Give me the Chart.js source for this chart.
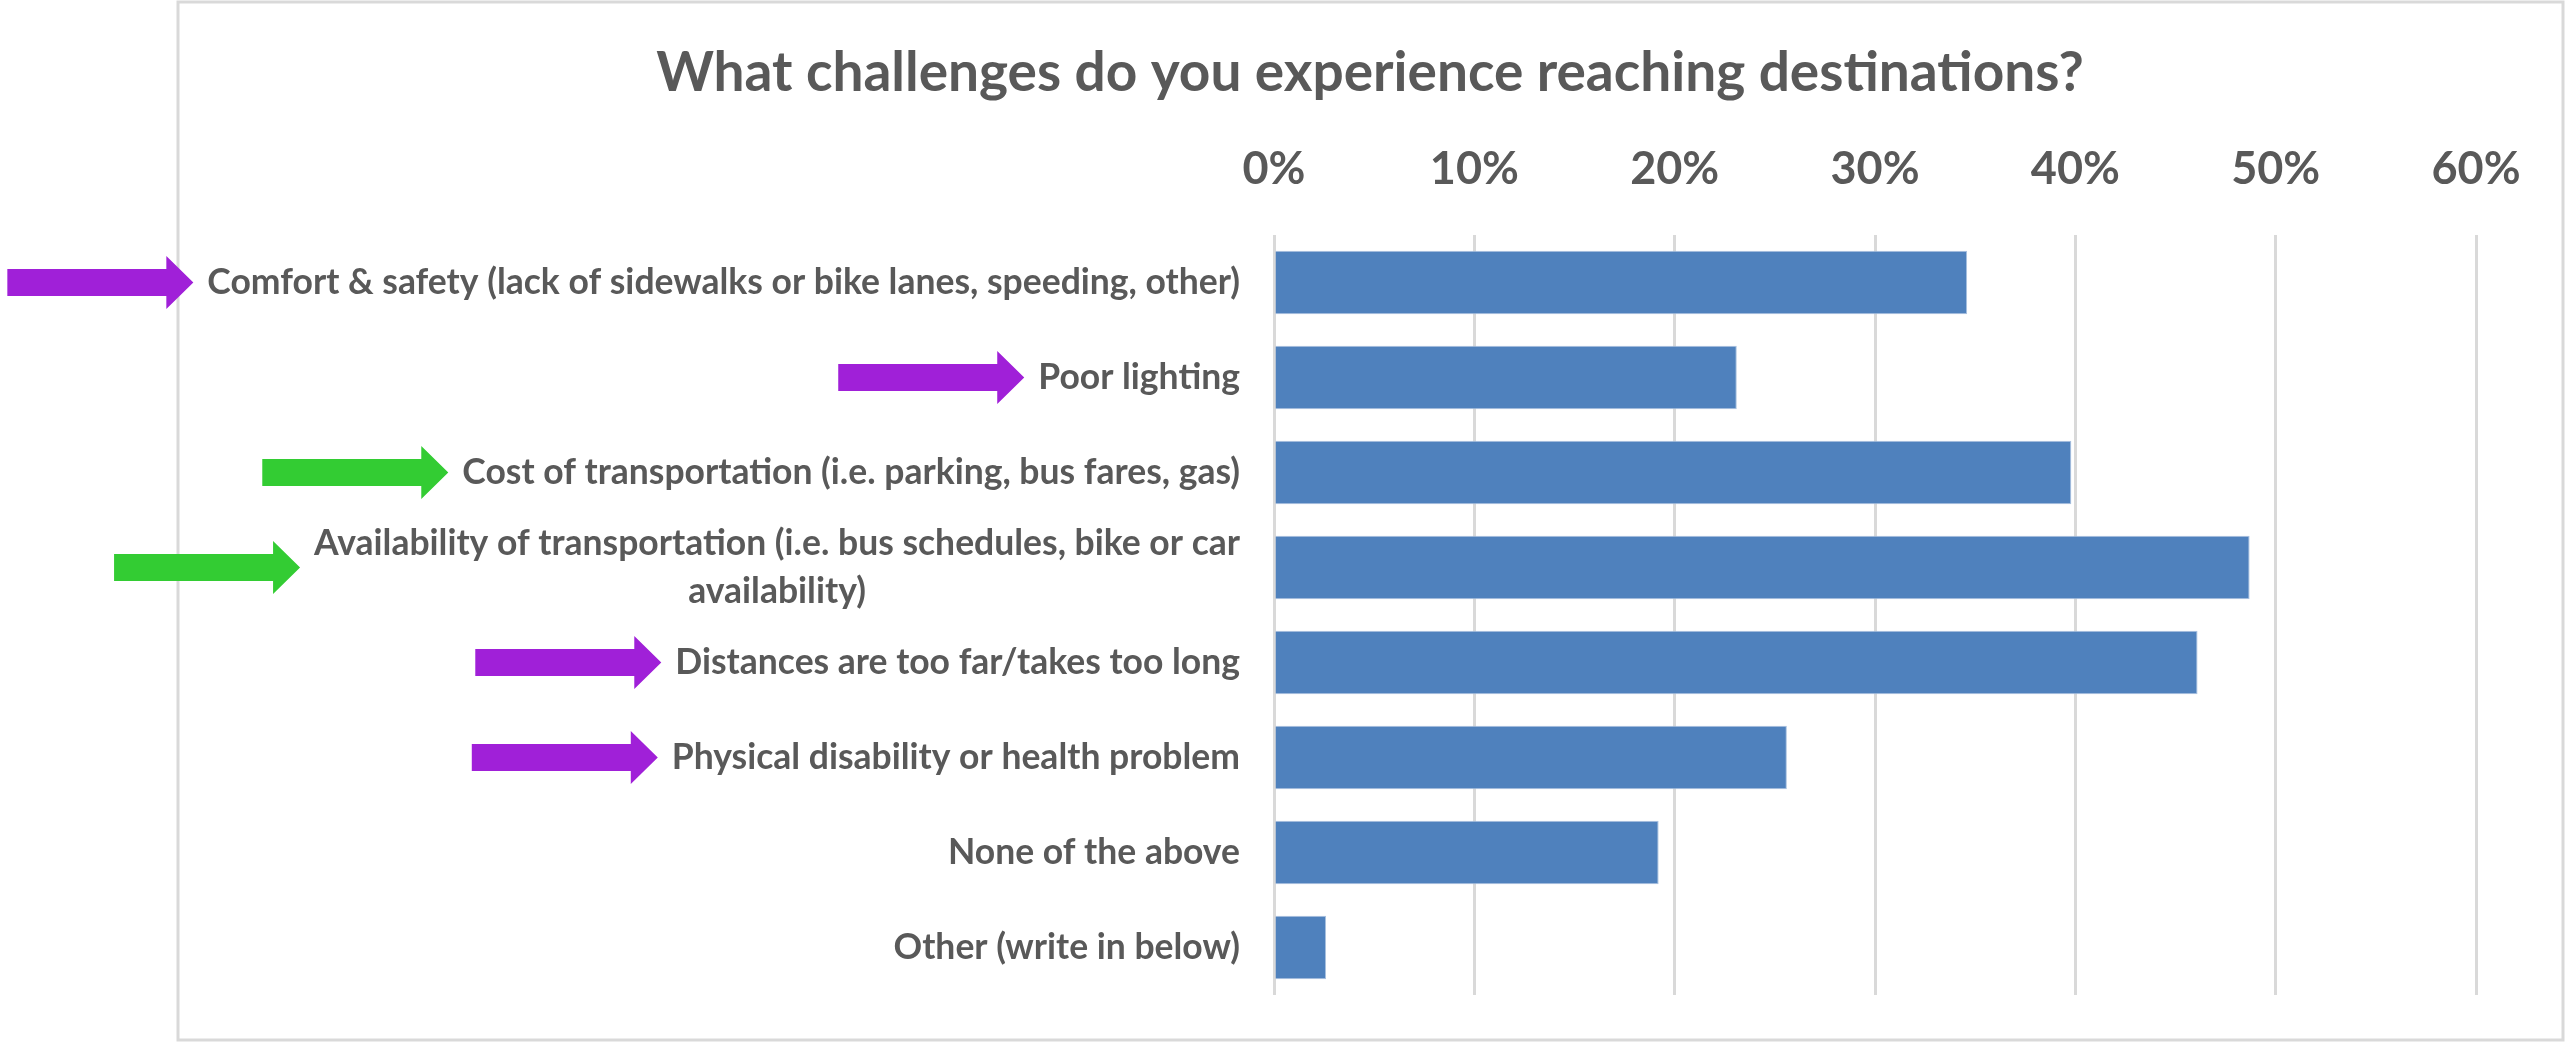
<!DOCTYPE html>
<html>
<head>
<meta charset="utf-8">
<title>What challenges do you experience reaching destinations?</title>
<script src="https://cdn.jsdelivr.net/npm/chart.js@4.4.1/dist/chart.umd.min.js"></script>
<style>
  html, body { margin: 0; padding: 0; background: #fff; }
  #wrap { position: relative; width: 2566px; height: 1046px; }
</style>
</head>
<body>
<div id="wrap"><canvas id="chart"></canvas></div>
<script>
/* Survey: challenges reaching destinations (horizontal bars, share of respondents) */
const categories = [
  'Comfort & safety (lack of sidewalks or bike lanes, speeding, other)',
  'Poor lighting',
  'Cost of transportation (i.e. parking, bus fares, gas)',
  ['Availability of transportation (i.e. bus schedules, bike or car', 'availability)'],
  'Distances are too far/takes too long',
  'Physical disability or health problem',
  'None of the above',
  'Other (write in below)'
];
const shares = [0.346, 0.231, 0.398, 0.487, 0.461, 0.256, 0.192, 0.026];
const tickLabels = ['0%', '10%', '20%', '30%', '40%', '50%', '60%'];

// highlight arrows next to some rows
const PURPLE = '#a020d8', GREEN = '#33cc33';
const arrowColors = [PURPLE, PURPLE, GREEN, GREEN, PURPLE, PURPLE, null, null];

const FONT = 'Lato, "Open Sans", sans-serif';
const INK = '#595959';

function drawArrow(c, tipX, cy, color) {
  const len = 186, head = 27, shaft = 27, headH = 53;
  c.fillStyle = color;
  c.beginPath();
  c.moveTo(tipX - len, cy - shaft / 2);
  c.lineTo(tipX - head, cy - shaft / 2);
  c.lineTo(tipX - head, cy - headH / 2);
  c.lineTo(tipX, cy);
  c.lineTo(tipX - head, cy + headH / 2);
  c.lineTo(tipX - head, cy + shaft / 2);
  c.lineTo(tipX - len, cy + shaft / 2);
  c.closePath();
  c.fill();
}

// chart frame (light grey box, arrows stick out of it on the left)
const frame = {
  id: 'frame',
  beforeDraw(chart) {
    const c = chart.ctx;
    c.save();
    c.strokeStyle = '#d9d9d9';
    c.lineWidth = 3;
    c.strokeRect(178, 2, 2385, 1038);
    c.restore();
  }
};

// category labels: block right-aligned to the axis, lines centred inside the block
const rowLabels = {
  id: 'rowLabels',
  afterDraw(chart) {
    const c = chart.ctx, ys = chart.scales.y;
    const right = chart.chartArea.left - 34;
    c.save();
    c.font = 'bold 35.5px ' + FONT;
    c.textAlign = 'center';
    c.textBaseline = 'middle';
    categories.forEach((lab, i) => {
      const lines = [].concat(lab);
      const w = Math.max(...lines.map(l => c.measureText(l).width));
      const cy = ys.getPixelForTick(i);
      c.fillStyle = INK;
      lines.forEach((l, k) => c.fillText(l, right - w / 2, cy + (k - (lines.length - 1) / 2) * 48));
      if (arrowColors[i]) drawArrow(c, right - w - 14, cy, arrowColors[i]);
    });
    c.restore();
  }
};

new Chart(document.getElementById('chart'), {
  type: 'bar',
  data: {
    labels: categories,
    datasets: [{
      data: shares,
      backgroundColor: '#4f81bd',
      borderColor: '#a9c1df',
      borderWidth: 1,
      barPercentage: 0.667,
      categoryPercentage: 1
    }]
  },
  options: {
    indexAxis: 'y',
    responsive: true, maintainAspectRatio: false, animation: false,
    layout: { padding: { top: 5, left: 264, right: 90, bottom: 51 } },
    plugins: {
      legend: { display: false },
      tooltip: { enabled: false },
      title: {
        display: true,
        text: 'What challenges do you experience reaching destinations?',
        color: INK,
        font: { family: FONT, size: 55, weight: 'bold', lineHeight: 1 },
        padding: { top: 41, bottom: 2 }
      }
    },
    scales: {
      x: {
        position: 'top', min: 0, max: 0.6,
        ticks: {
          stepSize: 0.1, padding: 39, color: INK,
          font: { family: FONT, size: 45, weight: 'bold' },
          callback: (v, i) => tickLabels[i]
        },
        grid: { color: '#d9d9d9', lineWidth: 3, drawTicks: false },
        border: { display: false }
      },
      y: {
        ticks: { display: false },
        grid: { display: false },
        border: { display: false },
        afterFit: s => { s.width = 1010; }
      }
    }
  },
  plugins: [frame, rowLabels]
});
</script>
</body>
</html>
